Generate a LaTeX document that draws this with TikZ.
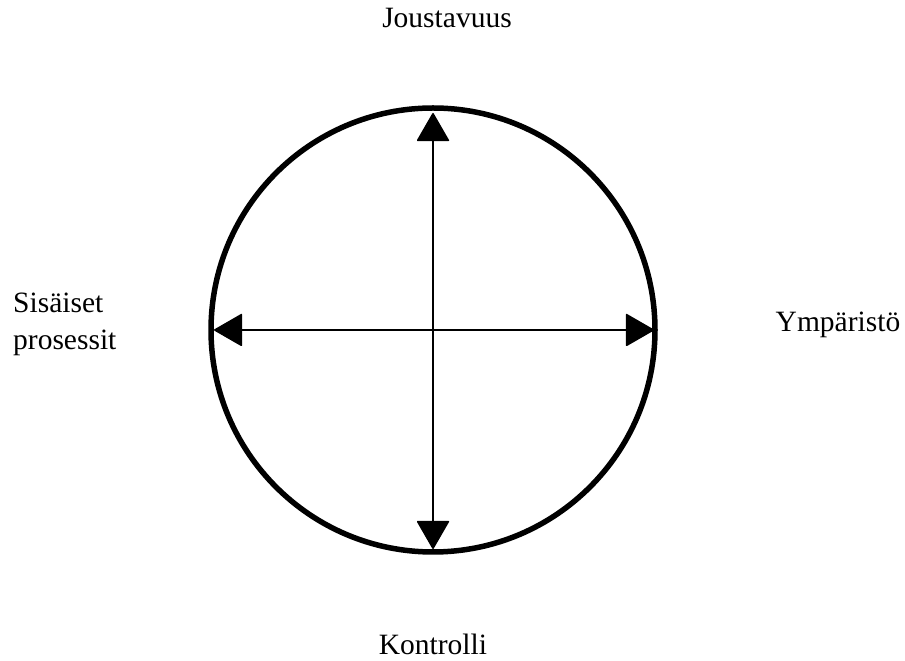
\documentclass[tikz,border=0pt]{standalone}
\usepackage{fontspec}
\setmainfont{Liberation Serif}
\usepackage{tikz}
\usetikzlibrary{arrows.meta,positioning}

\begin{document}
\begin{tikzpicture}[x=1pt, y=1pt, >={Triangle[width=33pt,length=29pt,round]},
  ring/.style={draw, circle, line width=5.5pt, minimum size=444pt, inner sep=0pt, outer sep=0pt},
  axis/.style={<->, line width=1.6pt},
  lbl/.style={font=\fontsize{29.5}{37}\selectfont, inner sep=0pt, align=left}]
  \path[use as bounding box] (0,0) rectangle (905,661);
  \node[ring](circ) at (433,331){};
  \draw[axis, shorten <=3pt, shorten >=5pt] (circ.south) -- (circ.north);
  \draw[axis, shorten <=3pt, shorten >=1pt] (circ.west) -- (circ.east);
  \node[lbl, anchor=base](flex) at (447,633){Joustavuus};
  \node[lbl, anchor=base](ctrl) at (433,6){Kontrolli};
  \node[lbl, anchor=base](env) at (838,329){Ympäristö};
  \node[lbl, anchor=base west](intl) at (13,311){Sisäiset\\prosessit};
\end{tikzpicture}
\end{document}
